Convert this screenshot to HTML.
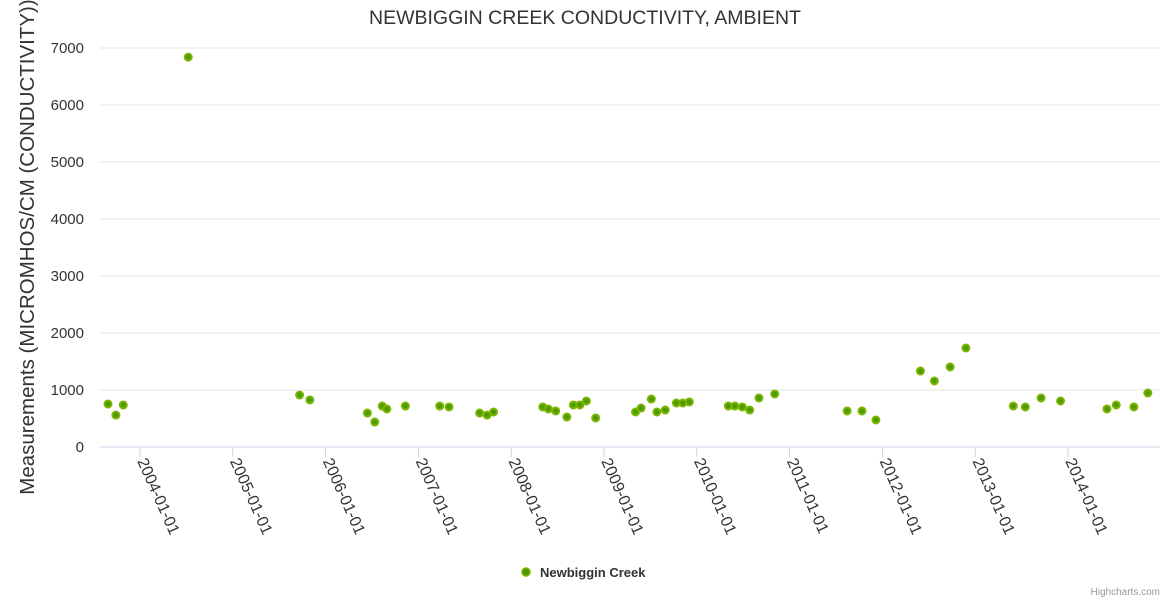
<!DOCTYPE html>
<html><head><meta charset="utf-8"><style>
body{margin:0;background:#fff;font-family:"Liberation Sans",sans-serif}
svg text{font-family:"Liberation Sans",sans-serif}
</style></head><body>
<svg id="chart" width="1170" height="600">
<text x="585" y="24" text-anchor="middle" font-size="19.5" fill="#333">NEWBIGGIN CREEK CONDUCTIVITY, AMBIENT</text>
<text transform="translate(34,247) rotate(-90)" text-anchor="middle" font-size="20.5" fill="#333">Measurements (MICROMHOS/CM (CONDUCTIVITY))</text>
<g id="grid"></g><g id="xaxis"></g><g id="pts"></g>
<g>
<circle cx="526" cy="572" r="4" fill="#4c9900" stroke="#7cb500" stroke-width="1.5"/>
<text x="540" y="577" font-size="13" font-weight="bold" fill="#333">Newbiggin Creek</text></g>
<text x="1160" y="595" text-anchor="end" font-size="10" fill="#999">Highcharts.com</text>
</svg>
<script>
const yTicks=[0,1000,2000,3000,4000,5000,6000,7000];
const xTickYears=[2004,2005,2006,2007,2008,2009,2010,2011,2012,2013,2014];
const xTickLabels=["2004-01-01","2005-01-01","2006-01-01","2007-01-01","2008-01-01","2009-01-01","2010-01-01","2011-01-01","2012-01-01","2013-01-01","2014-01-01"];
const dates=[2003.655,2003.74,2003.82,2004.52,2005.72,2005.83,2006.45,2006.53,2006.61,2006.66,2006.86,2007.23,2007.33,2007.66,2007.74,2007.81,2008.34,2008.40,2008.48,2008.60,2008.67,2008.74,2008.81,2008.91,2009.34,2009.40,2009.51,2009.57,2009.66,2009.78,2009.85,2009.92,2010.34,2010.41,2010.49,2010.57,2010.67,2010.84,2011.62,2011.78,2011.93,2012.41,2012.56,2012.73,2012.90,2013.41,2013.54,2013.71,2013.92,2014.42,2014.52,2014.71,2014.86];
const values=[754,560,737,6840,912,825,596,438,719,667,719,719,702,596,560,614,702,667,632,526,737,737,807,509,614,684,842,614,649,772,772,790,719,719,702,649,860,930,632,632,474,1333,1158,1404,1737,719,702,860,807,667,737,702,947];
const NS="http://www.w3.org/2000/svg";
const L=100,R=1160,T=48,B=447;
const x=v=>140+(v-2004)*92.8;
const y=v=>B-(v/7000)*(B-T);
function mk(tag,attrs,parent){const e=document.createElementNS(NS,tag);for(const k in attrs)e.setAttribute(k,attrs[k]);parent.appendChild(e);return e;}
const grid=document.getElementById('grid'),xa=document.getElementById('xaxis'),pts=document.getElementById('pts');
yTicks.forEach(t=>{
 const l=mk('line',{x1:L,x2:R,y1:y(t),y2:y(t),stroke:t===0?'#ccd6eb':'#e6e6e6','stroke-width':1},grid);
 
 
 const tx=mk('text',{x:84,y:y(t)+5,'text-anchor':'end','font-size':15,fill:'#333'},grid);
 tx.textContent=t;
 
 
});
xTickYears.forEach((yr,i)=>{
 const px=x(yr);
 const tk=mk('line',{x1:px,x2:px,y1:B,y2:B+10,stroke:'#ccd6eb'},xa);
 
 
 const tx=mk('text',{transform:`translate(${px-3},${B+14}) rotate(66)`,'font-size':16,fill:'#333'},xa);
 tx.textContent=xTickLabels[i];
 
 
});
dates.forEach((d,i)=>{
 const c=mk('circle',{cx:x(d),cy:y(values[i]),r:3.5,fill:'#4c9900',stroke:'#7cb500','stroke-width':2},pts);
 
 
});
</script>
</body></html>
